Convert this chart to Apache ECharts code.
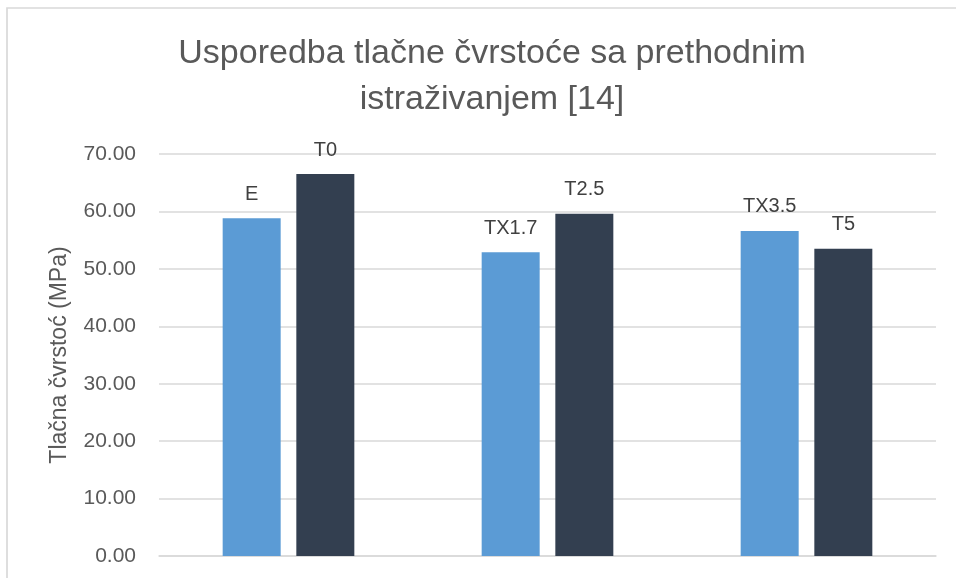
<!DOCTYPE html>
<html>
<head>
<meta charset="utf-8">
<script src="https://cdn.jsdelivr.net/npm/echarts@6/dist/echarts.min.js"></script>
<style>html,body{margin:0;padding:0;background:#fff}#c{width:956px;height:578px}</style>
</head>
<body>
<div id="c"></div>
<script>
var categories = ['G1', 'G2', 'G3'];
var seriesALabels = ['E', 'TX1.7', 'TX3.5'];
var seriesAValues = [58.8, 52.9, 56.6];
var seriesBLabels = ['T0', 'T2.5', 'T5'];
var seriesBValues = [66.5, 59.6, 53.5];
var titleText = 'Usporedba tlačne čvrstoće sa prethodnim\nistraživanjem [14]';
var yAxisName = 'Tlačna čvrstoć (MPa)';

var FONT = "'Liberation Sans', Arial, sans-serif";
var chart = echarts.init(document.getElementById('c'));
function mk(values, labels, color) {
  return {
    type: 'bar',
    data: values.map(function (v, i) { return { value: v, name: labels[i] }; }),
    barWidth: 58,
    barGap: '27%',
    itemStyle: { color: color },
    label: {
      show: true, position: 'top', distance: 14,
      formatter: function (p) { return labels[p.dataIndex]; },
      color: '#404040', fontSize: 20, fontFamily: FONT
    },
    silent: true
  };
}
chart.setOption({
  animation: false,
  backgroundColor: '#fff',
  graphic: [{
    type: 'rect', shape: { x: 7, y: 8, width: 1000, height: 700 },
    style: { fill: 'none', stroke: '#d9d9d9', lineWidth: 1.7 }, silent: true, z: -1
  }],
  title: {
    text: titleText, left: 487, top: 26, textAlign: 'center',
    textStyle: { fontFamily: FONT, fontSize: 34, fontWeight: 'normal', color: '#595959', lineHeight: 46 }
  },
  grid: { left: 159, right: 20, top: 154, bottom: 22, containLabel: false },
  xAxis: {
    type: 'category', data: categories,
    axisLine: { lineStyle: { color: '#d9d9d9', width: 1.5 } },
    axisTick: { show: false }, axisLabel: { show: false }
  },
  yAxis: {
    type: 'value', min: 0, max: 70, interval: 10,
    name: yAxisName, nameLocation: 'middle', nameGap: 88, nameRotate: 90,
    nameTextStyle: { fontFamily: FONT, fontSize: 23, color: '#595959' },
    axisLine: { show: false }, axisTick: { show: false },
    axisLabel: { formatter: function (v) { return v.toFixed(2); }, margin: 23, fontFamily: FONT, fontSize: 21, color: '#595959' },
    splitLine: { lineStyle: { color: '#d9d9d9', width: 1.5 } }
  },
  series: [mk(seriesAValues, seriesALabels, '#5B9BD5'), mk(seriesBValues, seriesBLabels, '#333F50')]
});
</script>
</body>
</html>
